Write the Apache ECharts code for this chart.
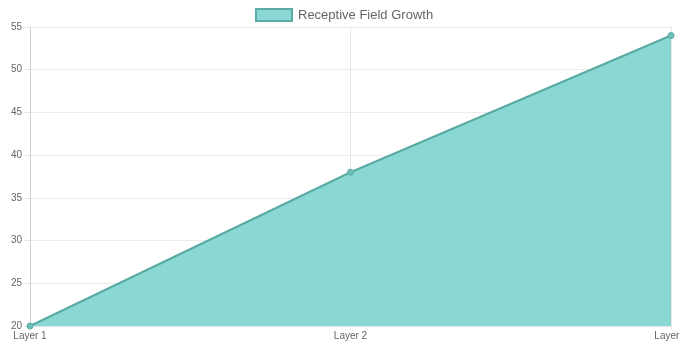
<!DOCTYPE html>
<html>
<head>
<meta charset="utf-8">
<script src="https://cdn.jsdelivr.net/npm/echarts@6/dist/echarts.min.js"></script>
<style>
  html, body { margin: 0; padding: 0; background: #fff; }
  #chart { width: 680px; height: 344px; }
</style>
</head>
<body>
<div id="chart"></div>
<script>
const layers = ['Layer 1', 'Layer 2', 'Layer 3'];
const fieldSizes = [20, 38, 54];
const seriesName = 'Receptive Field Growth';

const myChart = echarts.init(document.getElementById('chart'));
const option = {
  animation: false,
  textStyle: { fontFamily: 'Liberation Sans, Arial, sans-serif' },
  legend: {
    top: 3,
    left: 250,
    itemWidth: 36,
    itemHeight: 12,
    itemGap: 10,
    textStyle: { color: '#666', fontSize: 13, padding: [0, 0, 0, 1] },
    data: [{
      name: seriesName,
      icon: 'rect',
      itemStyle: { color: '#8ad8d3', borderColor: '#5aaca4', borderWidth: 2 }
    }]
  },
  grid: { left: 30, right: 9, top: 27, bottom: 18, outerBoundsMode: 'none', containLabel: false },
  xAxis: {
    type: 'category',
    data: layers,
    boundaryGap: false,
    axisLine: { show: true, lineStyle: { color: '#e6e6e6' } },
    axisTick: { show: true, length: 4, alignWithLabel: true, lineStyle: { color: '#e6e6e6' } },
    axisLabel: { color: '#666', fontSize: 10, margin: 5 },
    splitLine: { show: true, lineStyle: { color: '#e8e8e8' } }
  },
  yAxis: {
    type: 'value',
    min: 20,
    max: 55,
    interval: 5,
    axisLine: { show: true, lineStyle: { color: '#d0d0d0' } },
    axisTick: { show: true, length: 6, lineStyle: { color: '#e6e6e6' } },
    axisLabel: { color: '#666', fontSize: 10, margin: 8 },
    splitLine: { show: true, lineStyle: { color: '#ececec' } }
  },
  series: [{
    name: seriesName,
    type: 'line',
    data: fieldSizes,
    symbol: 'circle',
    symbolSize: 6,
    lineStyle: { color: '#58aaa2', width: 2 },
    itemStyle: { color: '#6cc0b8', borderColor: '#58aaa2', borderWidth: 1 },
    areaStyle: { color: '#8ad8d3', opacity: 1, origin: 'start' }
  }]
};
myChart.setOption(option);
</script>
</body>
</html>
